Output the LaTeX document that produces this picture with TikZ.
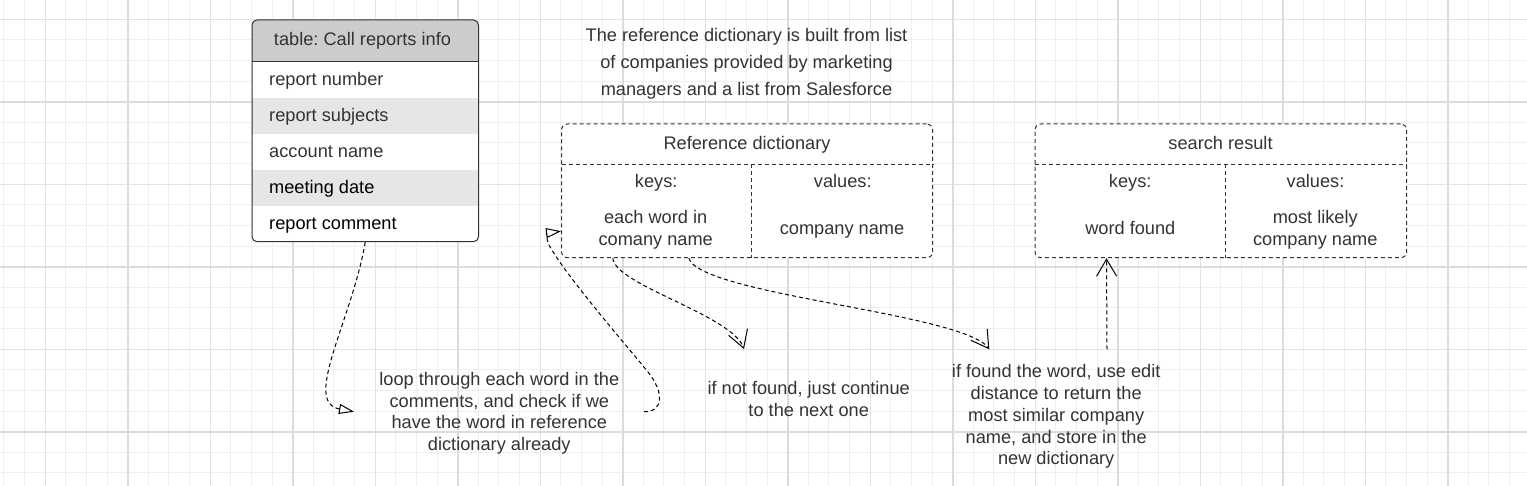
\documentclass[tikz,border=0pt]{standalone}
\usepackage{fontspec}
\setmainfont{Liberation Sans}
\usetikzlibrary{arrows.meta}
\frenchspacing
\definecolor{txt}{HTML}{333333}
\definecolor{hdrfill}{HTML}{CCCCCC}
\definecolor{altfill}{HTML}{E6E6E6}
\definecolor{gminor}{HTML}{EFEFEF}
\definecolor{gmid}{HTML}{E2E2E2}
\definecolor{gstrong}{HTML}{DCDCDC}
\begin{document}
\begin{tikzpicture}[x=1pt,y=-1pt,
  lbl/.style={font=\fontsize{18.2}{21.8}\selectfont\frenchspacing, text=txt, inner sep=0pt, align=center},
  dashbox/.style={draw=txt, dash pattern=on 4pt off 3pt, line width=1pt, rounded corners=6pt, fill=white, inner sep=0pt},
  dashline/.style={draw=txt, dash pattern=on 4pt off 3pt, line width=1pt},
  conn/.style={draw=black, line width=1pt, dash pattern=on 4pt off 3pt},
  tri/.style={-{Triangle[open,length=15pt,width=10pt,line width=1pt]}},
  barb/.style={-{Straight Barb[length=17pt,width=20pt,line width=1pt]}},
  gridminor/.style={draw=gminor, line width=1pt},
  gridmid/.style={draw=gmid, line width=1.2pt},
  gridstrong/.style={draw=gstrong, line width=2pt}
]
\useasboundingbox[fill=white] (0,0) rectangle (1527,486);

% grid
\foreach \k in {0,...,73} \draw[gridminor] ({3.95+20.625*\k},0) -- ({3.95+20.625*\k},486);
\foreach \k in {0,...,22} \draw[gridminor] (0,{19.2+20.625*\k}) -- (1527,{19.2+20.625*\k});
\foreach \k in {0,...,17} \draw[gridmid] ({45.2+82.5*\k},0) -- ({45.2+82.5*\k},486);
\foreach \k in {0,...,5} \draw[gridmid] (0,{19.2+82.5*\k}) -- (1527,{19.2+82.5*\k});
\foreach \k in {0,...,8} \draw[gridstrong] ({127.7+165*\k},0) -- ({127.7+165*\k},486);
\foreach \k in {0,...,2} \draw[gridstrong] (0,{101.7+165*\k}) -- (1527,{101.7+165*\k});

% table: Call reports info
\fill[white, rounded corners=5pt] (252,20) rectangle (478.5,241.7);
\fill[hdrfill] (252,61.7) [rounded corners=5pt] -- (252,20) -- (478.5,20) [sharp corners] -- (478.5,61.7) -- cycle;
\fill[altfill] (252,98) rectangle (478.5,134);
\fill[altfill] (252,170) rectangle (478.5,206);
\draw[txt, line width=1pt] (252,61.7) -- (478.5,61.7);
\node[draw=txt, line width=1pt, rounded corners=5pt, minimum width=226.5pt, minimum height=221.7pt, inner sep=0pt] (tbl) at (365.25,130.85) {};
\node[lbl, anchor=base] (thdr) at (362.5,45.9) {table: Call reports info};
\node[lbl, anchor=base west] (row1) at (269,85.3) {report number};
\node[lbl, anchor=base west] (row2) at (269,121.3) {report subjects};
\node[lbl, anchor=base west] (row3) at (269,157.3) {account name};
\node[lbl, anchor=base west, text=black] (row4) at (269,193.3) {meeting date};
\node[lbl, anchor=base west, text=black] (row5) at (269,229.3) {report comment};

% note
\node[lbl, font=\fontsize{18.2}{27.3}\selectfont\frenchspacing, anchor=north] (note) at (746.5,27.7)
  {The reference dictionary is built from list\\of companies provided by marketing\\managers and a list from Salesforce};

% Reference dictionary
\node[dashbox, minimum width=371.2pt, minimum height=133.7pt] (refd) at (747.1,190.85) {};
\draw[dashline] (561.5,164.3) -- (932.7,164.3);
\draw[dashline] (751.7,164.3) -- (751.7,257.7);
\node[lbl, anchor=base] (refttl) at (747,149.5) {Reference dictionary};
\node[lbl, anchor=base] (refk) at (656.2,187.5) {keys:};
\node[lbl, anchor=base] (refv) at (842.8,187.5) {values:};
\node[lbl, anchor=north] (refkv) at (655.7,210.5) {each word in\\comany name};
\node[lbl, anchor=base] (refvv) at (842,234.5) {company name};

% search result
\node[dashbox, minimum width=371.7pt, minimum height=133.7pt] (srch) at (1220.85,190.85) {};
\draw[dashline] (1035,164.3) -- (1406.7,164.3);
\draw[dashline] (1225,164.3) -- (1225,257.7);
\node[lbl, anchor=base] (srttl) at (1220.5,149.3) {search result};
\node[lbl, anchor=base] (srk) at (1130.2,187.5) {keys:};
\node[lbl, anchor=base] (srv) at (1315.5,187.5) {values:};
\node[lbl, anchor=base] (srkv) at (1130.3,234.3) {word found};
\node[lbl, anchor=north] (srvv) at (1315.3,210.5) {most likely\\company name};

% bottom texts
\node[lbl, anchor=north, minimum width=290pt] (loop) at (499.3,372)
  {loop through each word in the\\comments, and check if we\\have the word in reference\\dictionary already};
\node[lbl, anchor=north] (notfound) at (808.7,381) {if not found, just continue\\to the next one};
\node[lbl, anchor=north] (found) at (1056.2,364.3)
  {if found the word, use edit\\distance to return the\\most similar company\\name, and store in the\\new dictionary};

\coordinate (nfin) at (744,349);
\coordinate (fdin) at (989.3,349.3);
\coordinate (fdout) at (1107,349.3);
\coordinate (loopw) at (354,411.7);
\coordinate (loope) at (644,411.7);

% connectors
\draw[conn,tri] (tbl.south) .. controls (352,320) and (302,402) .. (loopw);
\draw[conn,tri] (loope) .. controls (664,412) and (664,392) .. (648,372)
  .. controls (632,352) and (565,275) .. (549,245)
  .. controls (546,239) and (547,233) .. ([yshift=27pt]refd.south west);
\draw[conn,barb] ([xshift=51.8pt]refd.south west) .. controls (615,285) and (732,315) .. (nfin);
\draw[conn,barb] ([xshift=127.8pt]refd.south west) .. controls (700,295) and (964,313) .. (fdin);
\draw[conn,barb] (fdout) -- ([xshift=72pt]srch.south west);
\end{tikzpicture}
\end{document}
